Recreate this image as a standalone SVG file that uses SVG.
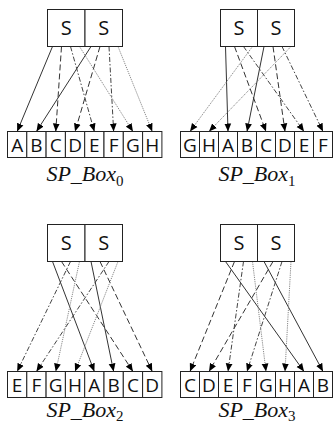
<svg xmlns="http://www.w3.org/2000/svg" width="333" height="424" viewBox="0 0 333 424">
  <style>
    .box { fill: #fff; stroke: #222; stroke-width: 1; }
    .cell { fill: #fff; stroke: #222; stroke-width: 1; }
    .s { font-family: "Open Sans", "Noto Sans", sans-serif; font-size: 20px; fill: #111; text-anchor: middle; }
    .c { font-family: "Open Sans", "Noto Sans", sans-serif; font-size: 19px; fill: #111; text-anchor: middle; }
    .lbl { font-family: "Liberation Serif", serif; font-style: italic; font-size: 22px; fill: #111; text-anchor: middle; }
    .sub { font-size: 15px; font-style: normal; }
    .w { fill: none; stroke-width: 1; }
    .b0 { stroke: #333; }
    .b1 { stroke: #333; stroke-dasharray: 6 3; }
    .b2 { stroke: #444; stroke-dasharray: 5 2 1.5 2; }
    .b3 { stroke: #888; stroke-dasharray: 1.2 1; }
  </style>
  <defs>
    <marker id="head" markerUnits="userSpaceOnUse" markerWidth="8" markerHeight="8" viewBox="0 0 8 8" refX="8" refY="4" orient="auto">
      <path d="M0,0.6 L8,4 L0,7.4 z" fill="#000"/>
    </marker>
  </defs>

  <!-- connectors: output bit k of an S-box lands on the cell that carries its letter -->
  <g id="connectors" marker-end="url(#head)">
    <!-- SP_Box0 -->
    <line class="w b0" x1="52.5" y1="46.5" x2="17.15" y2="131.5"/>
    <line class="w b0" x1="91" y1="46.5" x2="36.45" y2="131.5"/>
    <line class="w b1" x1="61.5" y1="46.5" x2="55.75" y2="131.5"/>
    <line class="w b1" x1="100" y1="46.5" x2="75.05" y2="131.5"/>
    <line class="w b2" x1="70.5" y1="46.5" x2="94.35" y2="131.5"/>
    <line class="w b2" x1="109" y1="46.5" x2="113.65" y2="131.5"/>
    <line class="w b3" x1="79.5" y1="46.5" x2="132.95" y2="131.5"/>
    <line class="w b3" x1="118" y1="46.5" x2="152.25" y2="131.5"/>
    <!-- SP_Box1 -->
    <line class="w b0" x1="225.5" y1="46.5" x2="228" y2="131.5"/>
    <line class="w b0" x1="264" y1="46.5" x2="247" y2="131.5"/>
    <line class="w b1" x1="234.5" y1="46.5" x2="266" y2="131.5"/>
    <line class="w b1" x1="273" y1="46.5" x2="285" y2="131.5"/>
    <line class="w b2" x1="243.5" y1="46.5" x2="304" y2="131.5"/>
    <line class="w b2" x1="282" y1="46.5" x2="323" y2="131.5"/>
    <line class="w b3" x1="252.5" y1="46.5" x2="190" y2="131.5"/>
    <line class="w b3" x1="291" y1="46.5" x2="209" y2="131.5"/>
    <!-- SP_Box2 -->
    <line class="w b0" x1="52.5" y1="261.5" x2="94.35" y2="371.5"/>
    <line class="w b0" x1="91" y1="261.5" x2="113.65" y2="371.5"/>
    <line class="w b1" x1="61.5" y1="261.5" x2="132.95" y2="371.5"/>
    <line class="w b1" x1="100" y1="261.5" x2="152.25" y2="371.5"/>
    <line class="w b2" x1="70.5" y1="261.5" x2="17.15" y2="371.5"/>
    <line class="w b2" x1="109" y1="261.5" x2="36.45" y2="371.5"/>
    <line class="w b3" x1="79.5" y1="261.5" x2="55.75" y2="371.5"/>
    <line class="w b3" x1="118" y1="261.5" x2="75.05" y2="371.5"/>
    <!-- SP_Box3 -->
    <line class="w b0" x1="225.5" y1="261.5" x2="304" y2="371.5"/>
    <line class="w b0" x1="264" y1="261.5" x2="323" y2="371.5"/>
    <line class="w b1" x1="234.5" y1="261.5" x2="190" y2="371.5"/>
    <line class="w b1" x1="273" y1="261.5" x2="209" y2="371.5"/>
    <line class="w b2" x1="243.5" y1="261.5" x2="228" y2="371.5"/>
    <line class="w b2" x1="282" y1="261.5" x2="247" y2="371.5"/>
    <line class="w b3" x1="252.5" y1="261.5" x2="266" y2="371.5"/>
    <line class="w b3" x1="291" y1="261.5" x2="285" y2="371.5"/>
  </g>

  <!-- SP_Box0 -->
  <g id="p0-s0"><rect class="box" x="47.5" y="9.5" width="37.5" height="37"/><text class="s" x="66.25" y="35">S</text></g>
  <g id="p0-s1"><rect class="box" x="85" y="9.5" width="37.5" height="37"/><text class="s" x="103.75" y="35">S</text></g>
  <g id="p0-c0"><rect class="cell" x="7.5" y="131.5" width="19.3" height="26"/><text class="c" x="17.15" y="151.5">A</text></g>
  <g id="p0-c1"><rect class="cell" x="26.8" y="131.5" width="19.3" height="26"/><text class="c" x="36.45" y="151.5">B</text></g>
  <g id="p0-c2"><rect class="cell" x="46.1" y="131.5" width="19.3" height="26"/><text class="c" x="55.75" y="151.5">C</text></g>
  <g id="p0-c3"><rect class="cell" x="65.4" y="131.5" width="19.3" height="26"/><text class="c" x="75.05" y="151.5">D</text></g>
  <g id="p0-c4"><rect class="cell" x="84.7" y="131.5" width="19.3" height="26"/><text class="c" x="94.35" y="151.5">E</text></g>
  <g id="p0-c5"><rect class="cell" x="104" y="131.5" width="19.3" height="26"/><text class="c" x="113.65" y="151.5">F</text></g>
  <g id="p0-c6"><rect class="cell" x="123.3" y="131.5" width="19.3" height="26"/><text class="c" x="132.95" y="151.5">G</text></g>
  <g id="p0-c7"><rect class="cell" x="142.6" y="131.5" width="19.3" height="26"/><text class="c" x="152.25" y="151.5">H</text></g>
  <g id="p0-label"><text class="lbl" x="85" y="181">SP_Box<tspan class="sub" dy="5">0</tspan></text></g>

  <!-- SP_Box1 -->
  <g id="p1-s0"><rect class="box" x="220.5" y="9.5" width="37" height="37"/><text class="s" x="239" y="35">S</text></g>
  <g id="p1-s1"><rect class="box" x="257.5" y="9.5" width="37" height="37"/><text class="s" x="276" y="35">S</text></g>
  <g id="p1-c0"><rect class="cell" x="180.5" y="131.5" width="19" height="26"/><text class="c" x="190" y="151.5">G</text></g>
  <g id="p1-c1"><rect class="cell" x="199.5" y="131.5" width="19" height="26"/><text class="c" x="209" y="151.5">H</text></g>
  <g id="p1-c2"><rect class="cell" x="218.5" y="131.5" width="19" height="26"/><text class="c" x="228" y="151.5">A</text></g>
  <g id="p1-c3"><rect class="cell" x="237.5" y="131.5" width="19" height="26"/><text class="c" x="247" y="151.5">B</text></g>
  <g id="p1-c4"><rect class="cell" x="256.5" y="131.5" width="19" height="26"/><text class="c" x="266" y="151.5">C</text></g>
  <g id="p1-c5"><rect class="cell" x="275.5" y="131.5" width="19" height="26"/><text class="c" x="285" y="151.5">D</text></g>
  <g id="p1-c6"><rect class="cell" x="294.5" y="131.5" width="19" height="26"/><text class="c" x="304" y="151.5">E</text></g>
  <g id="p1-c7"><rect class="cell" x="313.5" y="131.5" width="19" height="26"/><text class="c" x="323" y="151.5">F</text></g>
  <g id="p1-label"><text class="lbl" x="257" y="181">SP_Box<tspan class="sub" dy="5">1</tspan></text></g>

  <!-- SP_Box2 -->
  <g id="p2-s0"><rect class="box" x="47.5" y="224.5" width="37.5" height="37"/><text class="s" x="66.25" y="250">S</text></g>
  <g id="p2-s1"><rect class="box" x="85" y="224.5" width="37.5" height="37"/><text class="s" x="103.75" y="250">S</text></g>
  <g id="p2-c0"><rect class="cell" x="7.5" y="371.5" width="19.3" height="26"/><text class="c" x="17.15" y="391.5">E</text></g>
  <g id="p2-c1"><rect class="cell" x="26.8" y="371.5" width="19.3" height="26"/><text class="c" x="36.45" y="391.5">F</text></g>
  <g id="p2-c2"><rect class="cell" x="46.1" y="371.5" width="19.3" height="26"/><text class="c" x="55.75" y="391.5">G</text></g>
  <g id="p2-c3"><rect class="cell" x="65.4" y="371.5" width="19.3" height="26"/><text class="c" x="75.05" y="391.5">H</text></g>
  <g id="p2-c4"><rect class="cell" x="84.7" y="371.5" width="19.3" height="26"/><text class="c" x="94.35" y="391.5">A</text></g>
  <g id="p2-c5"><rect class="cell" x="104" y="371.5" width="19.3" height="26"/><text class="c" x="113.65" y="391.5">B</text></g>
  <g id="p2-c6"><rect class="cell" x="123.3" y="371.5" width="19.3" height="26"/><text class="c" x="132.95" y="391.5">C</text></g>
  <g id="p2-c7"><rect class="cell" x="142.6" y="371.5" width="19.3" height="26"/><text class="c" x="152.25" y="391.5">D</text></g>
  <g id="p2-label"><text class="lbl" x="85" y="417">SP_Box<tspan class="sub" dy="4">2</tspan></text></g>

  <!-- SP_Box3 -->
  <g id="p3-s0"><rect class="box" x="220.5" y="224.5" width="37" height="37"/><text class="s" x="239" y="250">S</text></g>
  <g id="p3-s1"><rect class="box" x="257.5" y="224.5" width="37" height="37"/><text class="s" x="276" y="250">S</text></g>
  <g id="p3-c0"><rect class="cell" x="180.5" y="371.5" width="19" height="26"/><text class="c" x="190" y="391.5">C</text></g>
  <g id="p3-c1"><rect class="cell" x="199.5" y="371.5" width="19" height="26"/><text class="c" x="209" y="391.5">D</text></g>
  <g id="p3-c2"><rect class="cell" x="218.5" y="371.5" width="19" height="26"/><text class="c" x="228" y="391.5">E</text></g>
  <g id="p3-c3"><rect class="cell" x="237.5" y="371.5" width="19" height="26"/><text class="c" x="247" y="391.5">F</text></g>
  <g id="p3-c4"><rect class="cell" x="256.5" y="371.5" width="19" height="26"/><text class="c" x="266" y="391.5">G</text></g>
  <g id="p3-c5"><rect class="cell" x="275.5" y="371.5" width="19" height="26"/><text class="c" x="285" y="391.5">H</text></g>
  <g id="p3-c6"><rect class="cell" x="294.5" y="371.5" width="19" height="26"/><text class="c" x="304" y="391.5">A</text></g>
  <g id="p3-c7"><rect class="cell" x="313.5" y="371.5" width="19" height="26"/><text class="c" x="323" y="391.5">B</text></g>
  <g id="p3-label"><text class="lbl" x="257" y="417">SP_Box<tspan class="sub" dy="4">3</tspan></text></g>
</svg>
